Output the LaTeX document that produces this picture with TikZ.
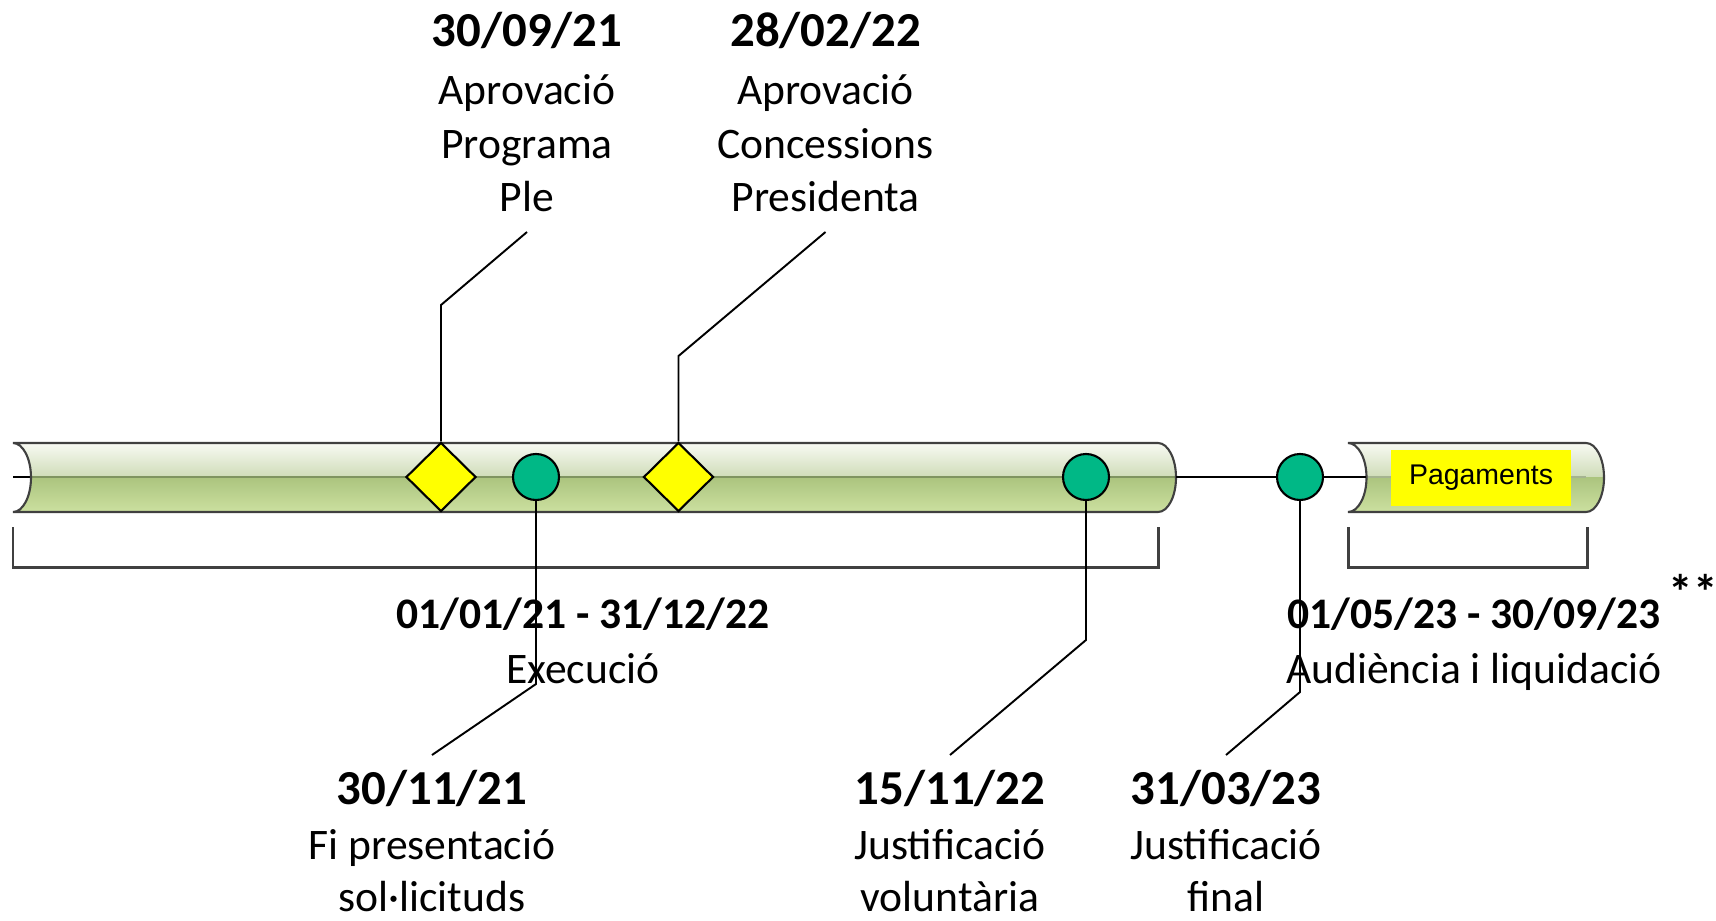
\documentclass[tikz,border=0pt]{standalone}
\usepackage{fontspec}
\setmainfont{Carlito}
\newfontfamily\boxfont{Liberation Sans}
\usetikzlibrary{shapes.geometric}
\definecolor{tubegray}{HTML}{404040}
\definecolor{tubetop}{HTML}{F8FAF3}
\definecolor{tubemid}{HTML}{CFDCB8}
\definecolor{tubelow}{HTML}{ABC47E}
\definecolor{tubebot}{HTML}{CCE0A0}
\definecolor{tubeaxis}{HTML}{7F9460}
\definecolor{markgreen}{HTML}{00B886}
\definecolor{markyellow}{HTML}{FFFF00}

\begin{document}
\begin{tikzpicture}[x=0.1mm,y=-0.1mm,
  tube/.style={draw=tubegray,line width=0.6pt},
  span/.style={draw=tubegray,line width=0.85pt},
  callout/.style={draw=black,line width=0.55pt},
  milestone/.style={diamond,draw=black,line width=0.6pt,fill=markyellow,minimum width=7mm,minimum height=6.9mm,inner sep=0pt},
  event/.style={circle,draw=black,line width=0.6pt,fill=markgreen,minimum size=4.6mm,inner sep=0pt},
  toplabel/.style={align=center,anchor=south,inner sep=0pt,inner ysep=1.95mm,font=\fontsize{12.4}{15.2}\selectfont},
  botlabel/.style={align=center,anchor=north,inner sep=0pt,font=\fontsize{12.4}{14.6}\selectfont},
  rangelabel/.style={align=center,anchor=north,inner sep=0pt,font=\fontsize{12.4}{15.5}\selectfont}]
  \useasboundingbox (0,0) rectangle (1716,920);
  %left tube
  \begin{scope}
    \clip (13,443) arc[start angle=-90,end angle=90,x radius=18,y radius=34.5] -- (1158,512) arc[start angle=90,end angle=-90,x radius=18,y radius=34.5] -- cycle;
    \fill[top color=tubetop,bottom color=tubemid] (0,443) rectangle (1200,477);
    \fill[top color=tubelow,bottom color=tubebot] (0,477) rectangle (1200,512);
  \end{scope}
  \draw[tubeaxis,line width=0.5pt] (31,477) -- (1176,477);
  \draw[line width=0.5pt] (13,477) -- (31,477);
  \draw[tube] (13,443) arc[start angle=-90,end angle=90,x radius=18,y radius=34.5] -- (1158,512) arc[start angle=90,end angle=-90,x radius=18,y radius=34.5] -- cycle;
  %right tube
  \begin{scope}
    \clip (1348,443) arc[start angle=-90,end angle=90,x radius=18.5,y radius=34.5] -- (1586,512) arc[start angle=90,end angle=-90,x radius=18,y radius=34.5] -- cycle;
    \fill[top color=tubetop,bottom color=tubemid] (1340,443) rectangle (1610,477);
    \fill[top color=tubelow,bottom color=tubebot] (1340,477) rectangle (1610,512);
  \end{scope}
  \draw[tubeaxis!70,line width=0.4pt] (1366,477) -- (1586,477);
  \draw[tube] (1348,443) arc[start angle=-90,end angle=90,x radius=18.5,y radius=34.5] -- (1586,512) arc[start angle=90,end angle=-90,x radius=18,y radius=34.5] -- cycle;
  \node[fill=markyellow,minimum width=18mm,minimum height=5.6mm,inner sep=0pt,font=\boxfont\fontsize{8.1}{9}\selectfont,at={(1481,478)},name=pay]{Pagaments};
  %link between tubes
  \coordinate (leftend) at (1176,477);
  \coordinate (rightstart) at (1366,477);
  \draw[line width=0.55pt] (leftend) -- (rightstart);
  %spans
  \draw[span] (13,527) |- (1158,567) -- (1158,527);
  \draw[span] (1348,527) |- (1587,567) -- (1587,527);
  \node[rangelabel,at={(583,597)},name=r1]{\textbf{01/01/21 - 31/12/22}\\[0.3pt]Execució};
  \node[rangelabel,at={(1474,597)},name=r2]{\textbf{01/05/23 - 30/09/23}\\[0.3pt]Audiència i liquidació};
  \node[font=\bfseries\fontsize{14}{15}\selectfont,inner sep=0pt,at={(1693,592)},name=note]{**};
  %markers
  \node[milestone,at={(441,477)},name=d1]{};
  \node[milestone,at={(678.5,477)},name=d2]{};
  \node[event,at={(536,477)},name=c1]{};
  \node[event,at={(1086,477)},name=c2]{};
  \node[event,at={(1300,477)},name=c3]{};
  %top labels
  \node[toplabel,at={(527,232)},name=l1]{{\bfseries\fontsize{13.9}{15.2}\selectfont 30/09/21}\\[1.35pt]Aprovació\\Programa\\Ple};
  \node[toplabel,at={(825.5,232)},name=l2]{{\bfseries\fontsize{13.9}{15.2}\selectfont 28/02/22}\\[1.35pt]Aprovació\\Concessions\\Presidenta};
  \coordinate (d1b) at (441,305);
  \coordinate (d2b) at (678.5,356);
  \draw[callout] (d1.north) -- (d1b) -- (l1.south);
  \draw[callout] (d2.north) -- (d2b) -- (l2.south);
  %bottom labels
  \node[botlabel,at={(432,770)},name=l3]{{\bfseries\fontsize{13.9}{15}\selectfont 30/11/21}\\[1pt]Fi presentació\\sol·licituds};
  \node[botlabel,at={(950,770)},name=l4]{{\bfseries\fontsize{13.9}{15}\selectfont 15/11/22}\\[1pt]Justificació\\voluntària};
  \node[botlabel,at={(1226,770)},name=l5]{{\bfseries\fontsize{13.9}{15}\selectfont 31/03/23}\\[1pt]Justificació\\final};
  \coordinate (c1b) at (536,684);
  \coordinate (c2b) at (1086,640);
  \coordinate (c3b) at (1300,692);
  \coordinate (c1e) at (432,755);
  \coordinate (c2e) at (950,755);
  \coordinate (c3e) at (1226,755);
  \draw[callout] (c1.south) -- (c1b) -- (c1e);
  \draw[callout] (c2.south) -- (c2b) -- (c2e);
  \draw[callout] (c3.south) -- (c3b) -- (c3e);
\end{tikzpicture}
\end{document}
